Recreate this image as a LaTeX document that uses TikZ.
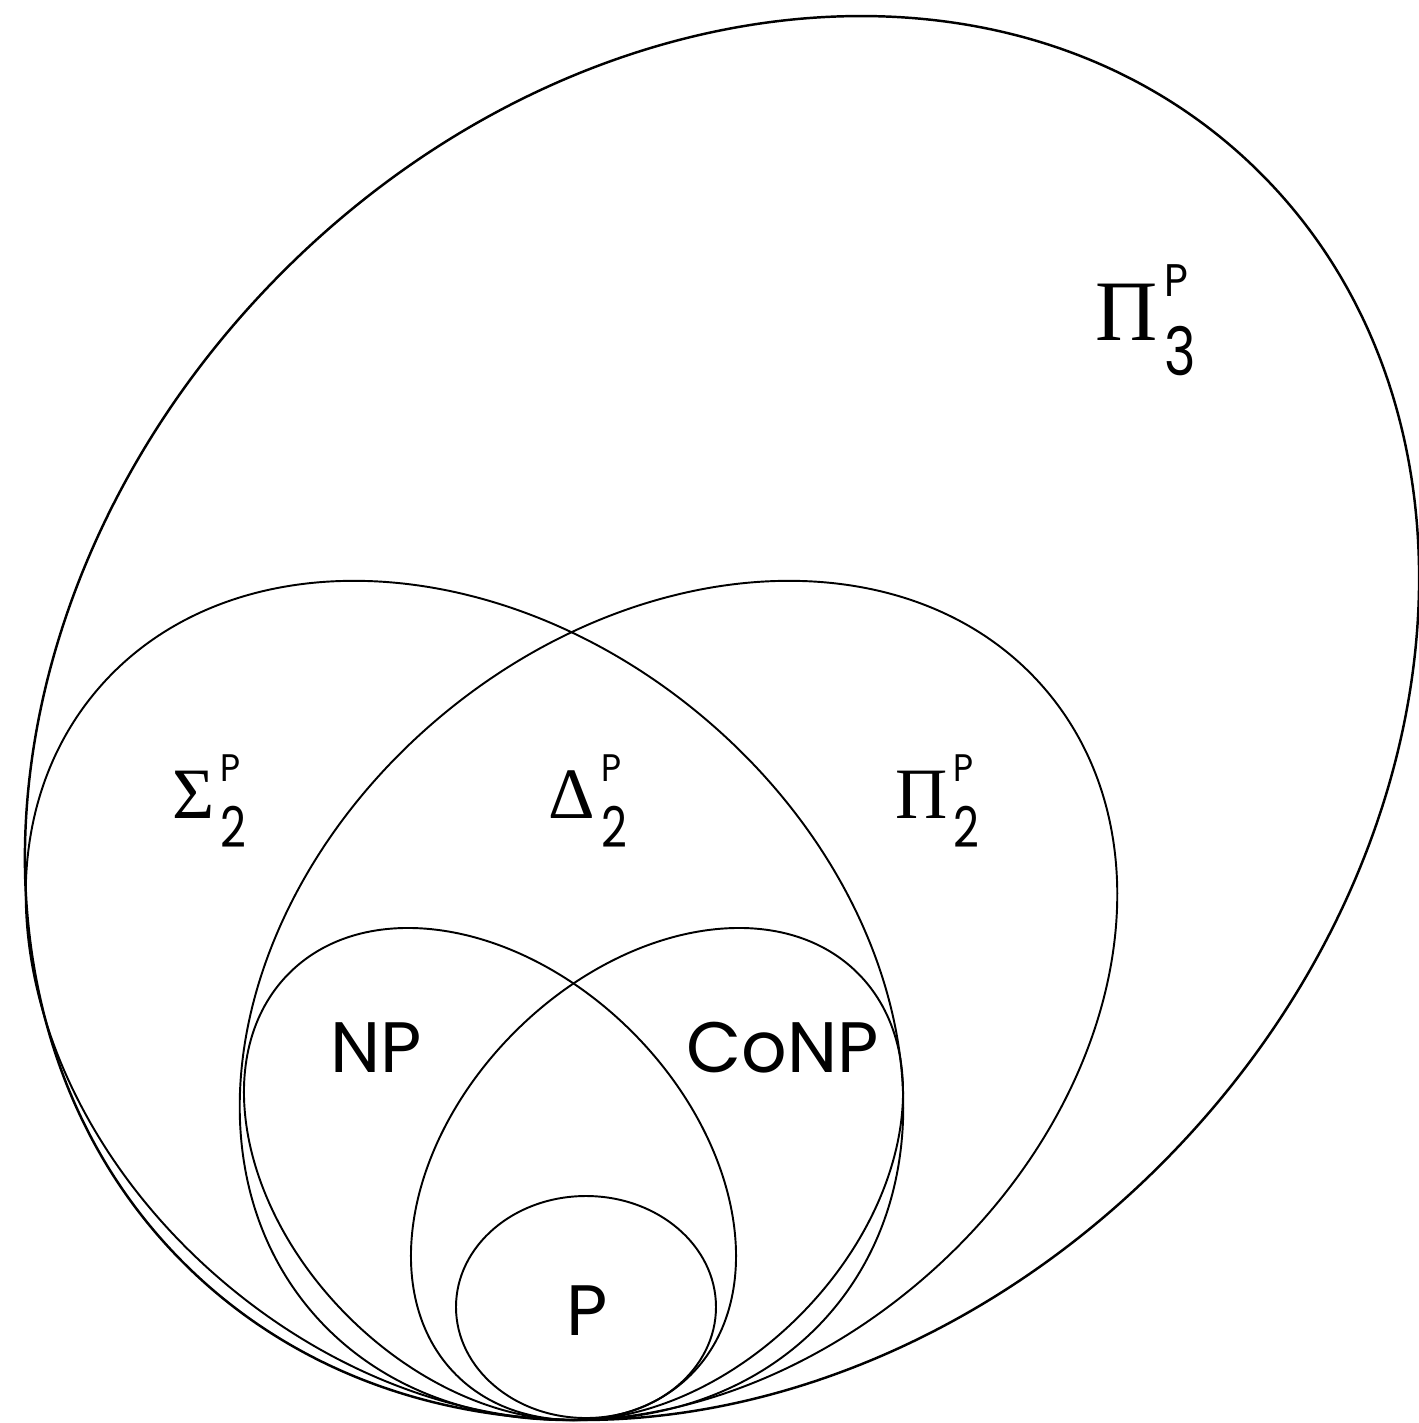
\documentclass[tikz,border=0pt]{standalone}
\usepackage{fontspec}
\usepackage{graphicx}
\setmainfont{Poppins}
\newfontfamily\grkfont{Liberation Serif}
\tikzset{
  region/.style={draw, line width=0.55pt},
  outer/.style={region, line width=0.7pt},
  cls/.style={inner sep=0pt, anchor=base west},
  cname/.style={inner sep=0pt, anchor=base, font=\fontsize{20.3}{24}\selectfont}
}
% class symbol with superscript P and level index
\newcommand{\hcls}[2]{%
  {\grkfont\fontsize{24.5}{28}\selectfont #1}\kern2pt
  \rlap{\raisebox{12.4pt}{\fontsize{13}{15}\selectfont\scalebox{0.9}[1]{P}}}%
  \raisebox{-10pt}{\fontsize{19}{22}\selectfont\scalebox{0.8}[1]{#2}}}

\begin{document}
\begin{tikzpicture}[x=0.01cm, y=0.01cm]
  \useasboundingbox (0,0) rectangle (1419,-1423);
  % the nested classes
  \draw[outer, rotate around={46:(722,-718)}] (722,-718) ellipse [x radius=766, y radius=626];
  \draw[region, rotate around={-40:(464.5,-1000.5)}] (464.5,-1000.5) ellipse [x radius=481, y radius=370.5];
  \draw[region, rotate around={40:(678.5,-1000.5)}] (678.5,-1000.5) ellipse [x radius=481, y radius=370.5];
  \draw[region, rotate around={-45:(490,-1174)}] (490,-1174) ellipse [x radius=284, y radius=201];
  \draw[region, rotate around={45:(657,-1174)}] (657,-1174) ellipse [x radius=284, y radius=201];
  \draw[region] (586,-1307) ellipse [x radius=130, y radius=111];
  % labels
  \node[cls] (pi3) at (1095,-340) {\hcls{Π}{3}};
  \node[cls] (sigma2) at (172,-818) {\scalebox{0.84}{\hcls{Σ}{2}}};
  \node[cls] (delta2) at (548,-818) {\scalebox{0.84}{\hcls{Δ}{2}}};
  \node[cls] (pi2) at (895,-818) {\scalebox{0.84}{\hcls{Π}{2}}};
  \node[cname] (np) at (376.5,-1072) {NP};
  \node[cname] (conp) at (783,-1072) {CoNP};
  \node[cname] (p) at (587.5,-1335) {P};
\end{tikzpicture}
\end{document}
